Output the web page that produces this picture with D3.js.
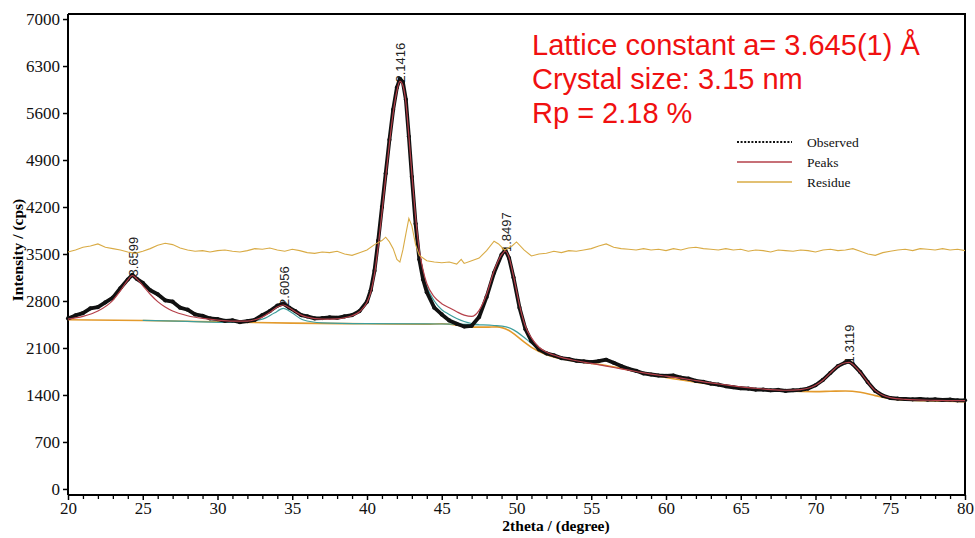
<!DOCTYPE html>
<html>
<head>
<meta charset="utf-8">
<script src="https://cdn.jsdelivr.net/npm/d3@7"></script>
<style>
  html, body { margin: 0; padding: 0; background: #fff; }
  svg { display: block; }
</style>
</head>
<body>
<svg id="chart" width="975" height="538"></svg>
<script>
// XRD pattern: observed counts, fitted peak profile, background and residue
const obsTheta = [20.0,20.5,21.0,21.5,22.0,22.5,23.0,23.5,24.0,24.3,24.6,25.0,25.5,26.0,26.5,27.0,27.5,28.0,28.5,29.0,29.5,30.0,30.5,31.0,31.5,32.0,32.5,33.0,33.5,34.0,34.4,34.8,35.2,35.6,36.0,36.5,37.0,37.5,38.0,38.5,39.0,39.5,40.0,40.25,40.5,40.75,41.0,41.25,41.5,41.75,42.0,42.2,42.4,42.6,42.8,43.0,43.25,43.5,43.75,44.0,44.5,45.0,45.5,46.0,46.5,47.0,47.5,48.0,48.5,49.0,49.25,49.5,49.8,50.2,50.6,51.0,51.5,52.0,52.5,53.0,53.5,54.0,54.5,55.0,55.5,56.0,56.5,57.0,57.5,58.0,58.5,59.0,59.5,60.0,60.5,61.0,61.5,62.0,62.5,63.0,63.5,64.0,64.5,65.0,65.5,66.0,66.5,67.0,67.5,68.0,68.5,69.0,69.5,70.0,70.5,71.0,71.5,72.0,72.25,72.5,73.0,73.5,74.0,74.5,75.0,75.5,76.0,76.5,77.0,77.5,78.0,78.5,79.0,79.5,80.0];
const obsCounts = [2540,2585,2620,2690,2710,2780,2850,2990,3120,3190,3130,3070,2960,2900,2810,2790,2700,2670,2600,2580,2540,2530,2505,2510,2485,2500,2520,2590,2650,2730,2760,2700,2650,2590,2570,2540,2545,2555,2550,2570,2590,2650,2790,2960,3250,3700,4200,4700,5200,5650,5980,6110,6060,5800,5250,4650,3950,3420,3120,2930,2700,2600,2510,2460,2420,2430,2560,2860,3220,3490,3560,3440,3150,2700,2380,2200,2080,2020,1990,1950,1935,1910,1900,1890,1905,1925,1880,1830,1790,1760,1720,1705,1690,1685,1690,1660,1645,1610,1595,1570,1555,1530,1515,1500,1495,1480,1480,1470,1475,1460,1470,1475,1495,1545,1625,1730,1830,1885,1895,1860,1740,1590,1460,1390,1355,1345,1340,1335,1340,1330,1335,1325,1330,1320,1320];

const fitTheta = [20,21,22,23,23.5,24,24.3,24.6,25,25.5,26,26.5,27,28,29,30,31,32,32.5,33,33.5,34,34.4,34.8,35.2,35.6,36,37,38,38.5,39,39.5,40,40.25,40.5,40.75,41,41.25,41.5,41.75,42,42.2,42.4,42.6,42.8,43,43.25,43.5,43.75,44,44.5,45,45.5,46,46.5,47,47.5,48,48.5,49,49.25,49.5,49.8,50.2,50.6,51,51.5,52,53,54,55,56,57,58,59,60,61,62,63,64,65,66,67,68,69,69.5,70,70.5,71,71.5,72,72.25,72.5,73,73.5,74,74.5,75,76,78,80];
const fitCounts = [2530,2570,2650,2810,2950,3110,3180,3130,3030,2900,2790,2710,2650,2580,2540,2515,2500,2500,2520,2560,2630,2710,2740,2700,2640,2590,2560,2530,2535,2550,2580,2640,2780,2930,3200,3620,4120,4650,5150,5600,5930,6070,6010,5760,5260,4700,4050,3560,3260,3060,2860,2760,2700,2640,2590,2570,2660,2900,3250,3490,3545,3450,3170,2740,2420,2250,2110,2040,1960,1910,1870,1830,1790,1750,1710,1680,1650,1615,1580,1550,1520,1500,1480,1470,1480,1500,1545,1620,1730,1830,1880,1885,1855,1735,1590,1465,1395,1360,1335,1320,1315];

const bgTheta = [20,25,30,35,40,44,45,46,47,48,48.7,49.5,50,50.5,51,52,53,54,55,56,58,60,62,64,66,68,70,71,72,73,74,75,76,78,80];
const bgCounts = [2520,2510,2490,2470,2460,2455,2460,2440,2410,2410,2415,2360,2280,2190,2110,2000,1940,1900,1870,1840,1750,1660,1590,1530,1490,1460,1450,1455,1460,1440,1390,1345,1325,1310,1300];

// individual peak components (background included)
const compTheta = [25,28,31,33,33.8,34.4,35,35.7,37,40,44,46,47.5,48.5,49.3,49.8,50.5,51,52,53];
const compCounts = [2512,2495,2480,2530,2620,2690,2620,2520,2475,2462,2458,2455,2445,2435,2415,2370,2260,2170,2030,1955];
const tailTheta = [43.5,44,44.5,45,45.5,46,46.5,47,47.5];
const tailCounts = [3500,3020,2800,2670,2600,2540,2495,2465,2450];

const resTheta = [20,20.5,21,21.5,22,22.5,23,23.5,24,24.5,25,25.5,26,26.5,27,27.5,28,28.5,29,29.5,30,30.5,31,31.5,32,32.5,33,33.5,34,34.5,35,35.5,36,36.5,37,37.5,38,38.5,39,39.5,40,40.5,41,41.25,41.5,41.75,42,42.2,42.4,42.6,42.8,43,43.25,43.5,44,44.5,45,45.5,46,46.3,46.5,47,47.5,48,48.5,48.8,49.2,49.7,50,50.5,51,51.5,52,52.5,53,53.5,54,54.5,55,55.5,56,56.5,57,57.5,58,58.5,59,59.5,60,60.5,61,61.5,62,62.5,63,63.5,64,64.5,65,65.5,66,66.5,67,67.5,68,68.5,69,69.5,70,70.5,71,71.5,72,72.5,73,73.5,74,74.5,75,75.5,76,76.5,77,77.5,78,78.5,79,79.5,80];
const resCounts = [3530,3560,3600,3620,3650,3600,3580,3560,3530,3510,3540,3580,3630,3660,3640,3590,3560,3540,3550,3530,3550,3560,3540,3530,3550,3580,3570,3590,3560,3540,3570,3550,3520,3510,3530,3520,3540,3500,3480,3520,3560,3640,3700,3750,3680,3580,3420,3380,3560,3800,4030,3920,3640,3480,3400,3380,3370,3380,3350,3420,3360,3400,3440,3550,3690,3650,3560,3620,3680,3560,3470,3500,3510,3540,3520,3550,3540,3560,3580,3620,3650,3600,3580,3570,3560,3580,3560,3570,3550,3580,3560,3590,3600,3580,3570,3560,3580,3560,3570,3540,3560,3550,3530,3560,3550,3540,3560,3550,3530,3560,3570,3550,3560,3580,3540,3500,3480,3520,3540,3560,3570,3550,3580,3570,3560,3580,3560,3570,3550];

// peak positions (2theta), fitted peak heights and d-spacing labels
const peakTheta = [24.3, 34.4, 42.2, 49.25, 72.2];
const peakCounts = [3180, 2740, 6070, 3545, 1885];
const peakLabels = ["3.6599", "2.6056", "2.1416", "1.8497", "1.3119"];

const yTicks = [0,700,1400,2100,2800,3500,4200,4900,5600,6300,7000];
const xTicks = [20,25,30,35,40,45,50,55,60,65,70,75,80];

const notes = ["Lattice constant a= 3.645(1) \u00C5", "Crystal size: 3.15 nm", "Rp = 2.18 %"];
const legendNames = ["Observed", "Peaks", "Residue"];

const svg = d3.select("#chart");
const serif = "'Liberation Serif', 'Times New Roman', serif";
const sans = "'Liberation Sans', Arial, sans-serif";

const x = d3.scaleLinear().domain([20, 80]).range([68, 965]);
const y = d3.scaleLinear().domain([-90, 7075]).range([495, 14]);

const col = { obs: "#111", fit: "#b5404a", res: "#d9ab45", bg: "#e39a2c", comp: "#3e9e9c" };

const zip = (a, b) => a.map((t, i) => [t, b[i]]);
const smooth = d3.line().x(d => x(d[0])).y(d => y(d[1])).curve(d3.curveMonotoneX);
const rough = d3.line().x(d => x(d[0])).y(d => y(d[1]));

// frame (top and right)
svg.append("path")
  .attr("d", `M${x(20)},${y(7075)}H${x(80)}V${y(-90)}`)
  .attr("fill", "none").attr("stroke", "#000").attr("stroke-width", 2);

// y axis
const yAxis = svg.append("g").attr("transform", `translate(${x(20)},0)`)
  .call(d3.axisLeft(y).tickValues(yTicks).tickSize(5).tickPadding(3).tickFormat(d3.format("d")));
yAxis.select(".domain").attr("d", `M0,${y(-90)}V${y(7075)}`).attr("stroke-width", 2);
yAxis.selectAll(".tick line").attr("stroke-width", 1.5);
yAxis.selectAll("text").attr("font-family", serif).attr("font-size", 17).attr("fill", "#111");

// x axis with minor ticks every degree
const minor = d3.range(20, 81, 1).filter(v => v % 5 !== 0);
svg.append("g").attr("transform", `translate(0,${y(-90)})`)
  .call(d3.axisBottom(x).tickValues(minor).tickSize(4).tickFormat(""))
  .call(g => g.select(".domain").remove())
  .selectAll(".tick line").attr("stroke-width", 1.3);
const xAxis = svg.append("g").attr("transform", `translate(0,${y(-90)})`)
  .call(d3.axisBottom(x).tickValues(xTicks).tickSize(5).tickPadding(2).tickFormat(d3.format("d")));
xAxis.select(".domain").attr("d", `M${x(20)},0H${x(80)}`).attr("stroke-width", 2);
xAxis.selectAll(".tick line").attr("stroke-width", 1.5);
xAxis.selectAll("text").attr("font-family", serif).attr("font-size", 17).attr("fill", "#111");

// axis titles
svg.append("text").attr("x", 556).attr("y", 531).attr("text-anchor", "middle")
  .attr("font-family", serif).attr("font-weight", "bold").attr("font-size", 15.5)
  .text("2theta / (degree)");
svg.append("text").attr("transform", "translate(23,250) rotate(-90)").attr("text-anchor", "middle")
  .attr("font-family", serif).attr("font-weight", "bold").attr("font-size", 15.5)
  .text("Intensity / (cps)");

// d-spacing labels, drawn beneath the curves
svg.append("g").selectAll("text").data(peakTheta).join("text")
  .attr("transform", (d, i) => `translate(${x(d) + 1},${y(peakCounts[i]) + 1}) rotate(-90)`)
  .attr("dy", "0.35em")
  .attr("font-family", sans).attr("font-size", 13).attr("fill", "#222")
  .text((d, i) => peakLabels[i]);

// background, components
svg.append("path").attr("d", smooth(zip(bgTheta, bgCounts)))
  .attr("fill", "none").attr("stroke", col.bg).attr("stroke-width", 1.6);
svg.append("path").attr("d", smooth(zip(compTheta, compCounts)))
  .attr("fill", "none").attr("stroke", col.comp).attr("stroke-width", 1.2);
svg.append("path").attr("d", smooth(zip(tailTheta, tailCounts)))
  .attr("fill", "none").attr("stroke", col.comp).attr("stroke-width", 1.2);

// observed pattern
svg.append("path").attr("d", rough(zip(obsTheta, obsCounts)))
  .attr("fill", "none").attr("stroke", col.obs).attr("stroke-width", 3.8)
  .attr("stroke-linejoin", "round");
svg.append("g").selectAll("circle").data(zip(obsTheta, obsCounts)).join("circle")
  .attr("cx", d => x(d[0])).attr("cy", d => y(d[1])).attr("r", 2.1).attr("fill", col.obs);

// fitted profile
svg.append("path").attr("d", smooth(zip(fitTheta, fitCounts)))
  .attr("fill", "none").attr("stroke", col.fit).attr("stroke-width", 1.2);

// residue
svg.append("path").attr("d", rough(zip(resTheta, resCounts)))
  .attr("fill", "none").attr("stroke", col.res).attr("stroke-width", 1.1);

// refinement notes
svg.append("g").selectAll("text").data(notes).join("text")
  .attr("x", 532).attr("y", (d, i) => 55 + i * 34)
  .attr("font-family", sans).attr("font-size", 29).attr("fill", "#f01010")
  .text(d => d);

// legend
const leg = svg.append("g").selectAll("g").data(legendNames).join("g")
  .attr("transform", (d, i) => `translate(737,${142 + i * 20})`);
leg.append("line").attr("x1", 0).attr("x2", 55).attr("y1", 0).attr("y2", 0)
  .attr("stroke", (d, i) => [col.obs, col.fit, col.res][i])
  .attr("stroke-width", (d, i) => i === 0 ? 2 : 1.6)
  .attr("stroke-dasharray", (d, i) => i === 0 ? "2,1.6" : null);
leg.append("text").attr("x", 70).attr("dy", "0.35em")
  .attr("font-family", serif).attr("font-size", 13.5).attr("fill", "#111")
  .text(d => d);
</script>
</body>
</html>
